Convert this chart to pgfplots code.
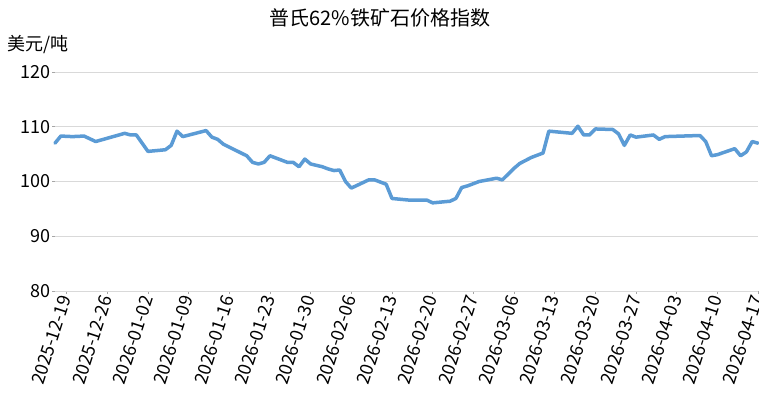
\documentclass[border=0pt]{standalone}
\usepackage{pgfplots}
\pgfplotsset{compat=1.18}
\usepackage{fontspec}
\setmainfont{Noto Sans CJK SC}
\definecolor{lineblue}{HTML}{5B9BD5}
\definecolor{gridgray}{HTML}{D9D9D9}
\definecolor{tickgray}{HTML}{A6A6A6}
\begin{document}
\begin{tikzpicture}[x=1pt,y=1pt]
\path[use as bounding box] (0,0) rectangle (759,397);
\begin{axis}[
  at={(55pt,106pt)}, anchor=south west,
  scale only axis, width=703pt, height=219pt,
  xmin=0, xmax=121, ymin=80, ymax=120,
  ytick={80,90,100,110,120},
  xtick={2,9,...,121},
  xticklabels={2025-12-19,2025-12-26,2026-01-02,2026-01-09,2026-01-16,2026-01-23,2026-01-30,2026-02-06,2026-02-13,2026-02-20,2026-02-27,2026-03-06,2026-03-13,2026-03-20,2026-03-27,2026-04-03,2026-04-10,2026-04-17},
  /pgf/number format/assume math mode=true,
  separate axis lines,
  axis x line*=bottom, axis y line*=left,
  x axis line style={gridgray, line width=0.8pt, -},
  y axis line style={draw=none},
  ymajorgrids, grid style={gridgray, line width=0.8pt},
  tick align=outside, major tick length=3pt,
  tick style={tickgray, line width=0.6pt},
  yticklabel style={font=\fontsize{18}{21}\selectfont, inner sep=1pt},
  xticklabel style={font=\fontsize{18}{21}\selectfont, rotate=72, anchor=east, inner sep=2pt},
  clip=false,
]
\addplot[lineblue, line width=3.5pt, line join=round, line cap=round] coordinates {
(0,107.0) (1,108.3) (3,108.2) (5,108.3) (7,107.3) (12,108.8) (13,108.5) (14,108.5)
(16,105.5) (19,105.8) (20,106.6) (21,109.2) (22,108.2) (26,109.3) (27,108.1) (28,107.7)
(29,106.8) (33,104.7) (34,103.5) (35,103.2) (36,103.5) (37,104.7) (40,103.5) (41,103.5)
(42,102.7) (43,104.1) (44,103.2) (46,102.7) (47,102.3) (48,102.0) (49,102.1) (50,100.0)
(51,98.8) (54,100.3) (55,100.3) (57,99.5) (58,96.9) (61,96.6) (64,96.6) (65,96.1)
(68,96.4) (69,96.9) (70,98.9) (71,99.2) (73,100.0) (76,100.6) (77,100.3) (79,102.4)
(80,103.3) (82,104.4) (84,105.2) (85,109.2) (89,108.8) (90,110.1) (91,108.5) (92,108.5)
(93,109.6) (96,109.5) (97,108.7) (98,106.6) (99,108.5) (100,108.1) (103,108.5) (104,107.7)
(105,108.2) (111,108.4) (112,107.3) (113,104.7) (114,104.9) (117,106.0) (118,104.7)
(119,105.4) (120,107.3) (121,107.0)
};
\end{axis}
\node[font=\fontsize{20}{24}\selectfont] at (380,379) {普氏62\%铁矿石价格指数};
\node[font=\fontsize{18}{21}\selectfont, anchor=west, inner sep=0pt] at (7,352) {美元/吨};
\end{tikzpicture}
\end{document}
